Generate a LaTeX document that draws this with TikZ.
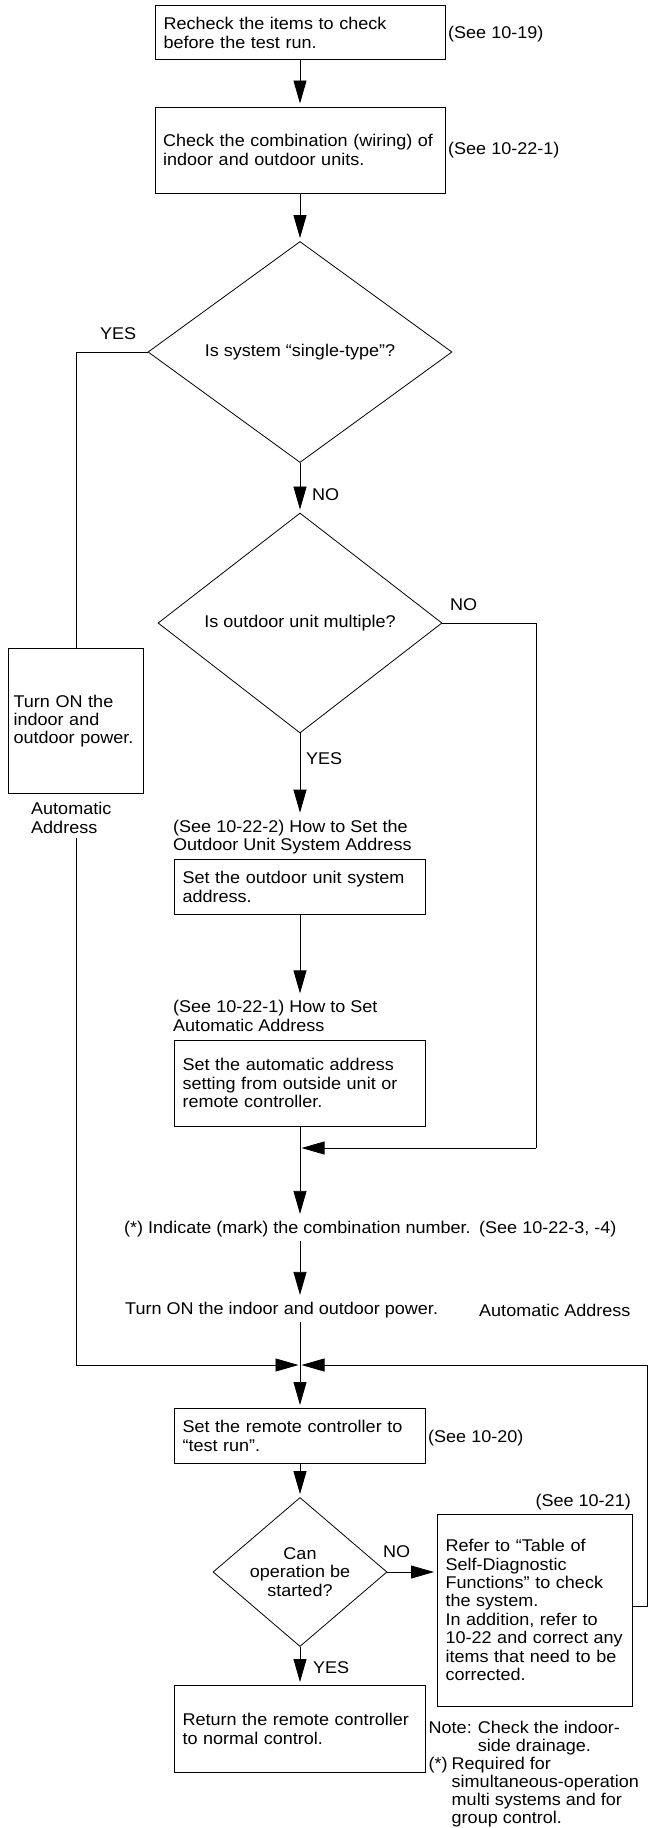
\documentclass[tikz,border=0pt]{standalone}
\usepackage{fontspec}
\setmainfont{Liberation Sans}[FakeStretch=1.06]
\usetikzlibrary{arrows.meta, positioning, shapes.geometric}
\tikzset{
    stepbox/.style={
        rectangle, draw=black, line width=1pt,
        inner xsep=8pt, align=left
    },
    decision/.style={
        diamond, draw=black, line width=0.8pt,
        inner sep=0pt, align=center
    },
    plain/.style={inner xsep=0pt, inner ysep=4pt, align=left, anchor=west},
    remark/.style={inner sep=0pt, anchor=north west},
    answer/.style={inner sep=0pt, anchor=west},
    seeref/.style={inner sep=0pt, anchor=west},
    arrow/.style={-{Triangle[length=23pt, width=13pt]}, line width=0.8pt, shorten >=3pt},
    wire/.style={line width=0.8pt}
}
\begin{document}
\begin{tikzpicture}[x=1pt, y=-1pt, font=\fontsize{17}{18.4}\selectfont]
    \useasboundingbox (0,0) rectangle (648,1828);

    \node[stepbox, minimum width=290pt, minimum height=54pt, text width=273pt] (b1) at (300,33) {Recheck the items to check\\before the test run.};
    \node[seeref] (s1) at (448,34) {(See 10-19)};
    \node[stepbox, minimum width=290pt, minimum height=86pt, text width=274pt] (b2) at (300,150) {Check the combination (wiring) of\\indoor and outdoor units.};
    \node[seeref] (s2) at (448,150) {(See 10-22-1)};

    \node[decision, minimum width=304pt, minimum height=221pt] (d1) at (300,352) {Is system “single-type”?};
    \node[answer] (yes1) at (100,334) {YES};
    \node[decision, minimum width=284pt, minimum height=220pt] (d2) at (300,623) {Is outdoor unit multiple?};
    \node[answer] (no1) at (312,495) {NO};
    \node[answer] (no2) at (450,605) {NO};

    \node[stepbox, inner xsep=5.25pt, minimum width=135.5pt, minimum height=145pt, text width=125pt] (pwr) at (76,721) {Turn ON the\\indoor and\\outdoor power.};
    \node[plain] (autoL) at (31,818) {Automatic\\Address};

    \node[answer] (yes2) at (306,759) {YES};
    \node[plain] (howA) at (173,837) {(See 10-22-2) How to Set the\\Outdoor Unit System Address};
    \node[stepbox, minimum width=251pt, minimum height=55pt, text width=235pt] (b3) at (300,887) {Set the outdoor unit system\\address.};
    \node[plain] (howB) at (173,1016) {(See 10-22-1) How to Set\\Automatic Address};
    \node[stepbox, minimum width=251pt, minimum height=86pt, text width=235pt] (b4) at (300,1083) {Set the automatic address\\setting from outside unit or\\remote controller.};
    \coordinate (j1) at (300,1148);
    \coordinate (noR) at (536,1148);

    \node[plain] (ind) at (124,1229) {(*) Indicate (mark) the combination number.};
    \node[seeref] (s3) at (479,1229) {(See 10-22-3, -4)};
    \node[plain] (pwr2) at (125,1310) {Turn ON the indoor and outdoor power.};
    \node[seeref] (autoR) at (479,1310) {Automatic Address};
    \coordinate (j2) at (300,1365);

    \node[stepbox, minimum width=251pt, minimum height=55pt, text width=235pt] (b5) at (300,1436) {Set the remote controller to\\“test run”.};
    \node[seeref] (s4) at (428,1438) {(See 10-20)};
    \node[decision, minimum width=174pt, minimum height=130pt] (d3) at (300,1572) {Can\\operation be\\started?};
    \node[answer] (no3) at (383,1552) {NO};
    \node[stepbox, minimum width=195pt, minimum height=192pt, text width=179pt] (b6) at (535,1610) {Refer to “Table of\\Self-Diagnostic\\Functions” to check\\the system.\\In addition, refer to\\10-22 and correct any\\items that need to be\\corrected.};
    \node[seeref, anchor=east] (s5) at (631,1502) {(See 10-21)};
    \node[answer] (yes3) at (313,1668) {YES};
    \node[stepbox, minimum width=251pt, minimum height=87pt, text width=235pt] (b7) at (300,1729) {Return the remote controller\\to normal control.};
    \node[remark] (note1) at (428.5,1721) {\renewcommand{\arraystretch}{0.97}\begin{tabular}{@{}l@{\hspace{6pt}}l@{}}Note: & Check the indoor-\\ & side drainage.\end{tabular}};
    \node[remark] (note2) at (note1.south west) {\renewcommand{\arraystretch}{0.97}\begin{tabular}{@{}l@{\hspace{4pt}}l@{}}(*) & Required for\\ & simultaneous-operation\\ & multi systems and for\\ & group control.\end{tabular}};

    \draw[arrow] (b1) -- (b2);
    \draw[arrow] (b2) -- (d1);
    \draw[wire] (d1.west) -| (pwr.north);
    \draw[arrow] (d1) -- (d2);
    \draw[arrow] (d2) -- (d2 |- howA.north);
    \draw[arrow] (b3) -- (b3 |- howB.north);
    \draw[wire] (d2.east) -| (noR);
    \draw[arrow, shorten >=1.5pt] (noR) -- (j1);
    \draw[arrow] (b4) -- (b4 |- ind.north);
    \draw[arrow] (b4 |- ind.south) -- (b4 |- pwr2.north);
    \draw[arrow] (b4 |- pwr2.south) -- (b5);
    \draw[arrow, shorten >=1.5pt] (pwr |- autoL.south) |- (j2);
    \draw[arrow, shorten >=1.5pt] ([yshift=4pt]b6.east) -- ++(14,0) |- (j2);
    \draw[arrow] (b5) -- (d3);
    \draw[arrow] (d3) -- (d3 -| b6.west);
    \draw[arrow] (d3) -- (b7);
\end{tikzpicture}
\end{document}
